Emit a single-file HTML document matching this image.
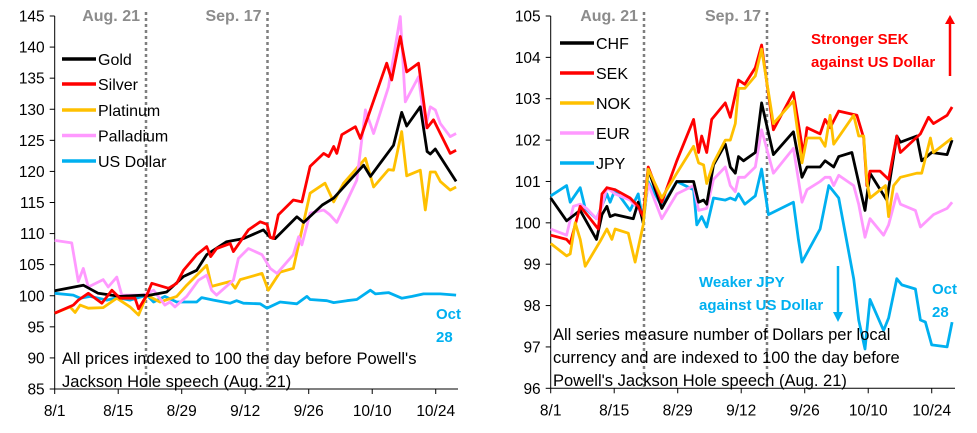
<!DOCTYPE html>
<html><head><meta charset="utf-8">
<style>
html,body{margin:0;padding:0;background:#fff;}
svg{display:block;font-family:"Liberation Sans",sans-serif;}
</style></head>
<body>
<svg id="chart" width="977" height="433" viewBox="0 0 977 433" xmlns="http://www.w3.org/2000/svg"></svg>
<script>
// ---------- Left panel data (day offsets from 8/1) ----------
const xTickLabels = ["8/1","8/15","8/29","9/12","9/26","10/10","10/24"];
const xTickDays = [0,14,28,42,56,70,84];
const leftYTicks = [85,90,95,100,105,110,115,120,125,130,135,140,145];
const rightYTicks = [96,97,98,99,100,101,102,103,104,105];

const goldDays = [0,6.3,9.6,14.4,19.6,20.3,24.7,28.4,31.3,33.5,37.9,41.6,46,47.5,48.6,53.4,54.9,59,61.5,68.1,69.6,74.7,76.5,77.6,80.6,82.1,82.8,83.9,88.5];
const goldVals = [100.8,101.7,100.4,99.9,100.1,100,100.6,103.1,104.1,106.6,108.7,109.2,110.6,109.4,109.2,112.7,111.8,114.6,115.7,121,119.2,124.2,129.5,127.3,130.4,123.2,122.8,123.6,118.4];
const silverDays = [0,4.1,5.2,7.4,10.4,12.6,14.4,17.7,18.5,20.3,21.4,25.1,26.9,28.4,31.3,33.5,34.4,35.7,38.7,39.4,42.7,45.3,46.8,47.5,48.2,49.3,52.6,54.5,56.3,59.3,60.4,61.5,62.2,63.3,66.3,67.4,73.2,74.3,76.2,77.6,80.2,82.1,83.5,87.2,88.5];
const silverVals = [97.2,98.5,99.3,100.4,98.8,100.9,99.6,99.6,97.9,100.1,102,101.2,102,104.1,106.6,107.9,106.3,107.6,108.4,107.1,110.6,111.9,111.5,109.4,109.2,113,115.4,115.1,120.8,122.9,122.4,124,122.9,125.9,127.2,125.3,137.4,134.7,141.7,136,137.4,127,128.3,122.9,123.4];
const platinumDays = [0,3.4,4.5,5.6,7.4,10.7,13.7,16.6,18.5,20.3,23.2,26.9,29.1,33.5,34.6,38.7,39.8,40.9,42.4,45.7,47.1,49.7,52.6,56.3,59.6,61.5,63.7,68.5,70.3,73.6,74.7,76.5,77.6,80.6,81.7,82.8,83.9,85,87.2,88.5];
const platinumVals = [97.2,98.2,97.3,98.5,98,98.1,99.6,98.2,96.9,100.1,99,99.9,101.7,104.9,101.5,102.3,101.2,102.6,102.9,103.6,100.9,103.8,104.4,116.5,118.1,115.1,118.1,122.1,117.5,120.3,120.2,126.4,119.3,120.2,113.8,119.9,119.9,118.4,117,117.5];
const palladiumDays = [0,3.75,5.2,6.3,7.4,10.7,11.8,13.7,14.8,19.6,21.8,24.3,25.4,26.5,29.1,31.7,33.5,34.6,35.7,39.4,40.5,42.7,45.7,47.5,49,52.6,53.8,54.5,56.3,59.3,60.7,62.2,66.6,68.5,70.3,73.6,76.2,77.3,80.2,81.7,82.8,83.9,85,87.2,88.5];
const palladiumVals = [108.9,108.5,102.3,104.4,101.4,102.6,101.4,103,100.1,100.1,100.9,98.5,99,98.2,99.9,102.5,103.3,100.9,100.1,102.5,106,107.6,106.6,104.4,103.6,106.6,109.5,108.2,113.3,113.8,113,111.8,118.6,129.9,126.1,133.6,144.9,131.2,135.2,127,130.4,129.9,127.7,125.6,126.1];
const usdDays = [0,4.1,5.6,7.8,11.5,13.7,16.6,20.3,21.8,24.3,26.9,31.3,32.4,35,38.7,40.1,41.6,45.3,46.8,49.7,53.4,55.6,56.3,60,61.5,64.4,66.6,69.6,70.7,73.6,76.5,78.8,81.3,85,88.5];
const usdVals = [100.4,100.1,99.6,99.9,99.3,99.7,99.3,100.1,99,99.9,99,99,99.7,99.3,98.8,99.2,98.8,98.7,98,99,98.7,99.9,99.4,99.2,98.9,99.2,99.4,100.9,100.3,100.5,99.6,99.9,100.3,100.3,100.1];

// ---------- Right panel data ----------
const chfDays = [0,3.5,6.5,10.1,11.3,12.4,13.1,14.2,18.2,19.3,20.4,21.5,24.5,27.8,31.5,32.6,33.7,34.4,35.9,38.5,39.6,40.7,41.4,42.5,45.1,46.5,49.1,53.5,55.4,56.5,59.4,60.5,62.4,63.5,66.4,69.3,70.4,74.1,76.3,77.1,80.7,81.8,84.0,87.4,88.5];
const chfVals = [100.6,100.05,100.3,99.6,100.2,100.4,100.15,100.2,100.1,100.5,100,101.3,100.35,101,101,100.5,100.55,100.45,101.4,101.9,101.35,101.2,101.6,101.5,101.7,102.9,101.65,102.2,101.1,101.35,101.35,101.5,101.35,101.6,101.7,100.3,101.2,100.55,102.1,101.95,102.1,101.5,101.7,101.65,102];
const sekDays = [0,3.5,4.3,6.5,8.7,10.5,11.3,12.4,14.2,17.5,19.3,20.4,21.5,24.5,27.8,31.5,32.6,33.3,34.4,35.5,38.5,39.6,41.4,42.8,45.1,46.5,49.1,53.5,55.7,56.5,59.4,60.5,61.6,63.5,67.5,69.0,69.7,70.4,72.6,74.5,76.3,77.1,81.5,83.3,84.4,87.4,88.5];
const sekVals = [99.7,99.6,99.5,100.4,100.1,99.85,100.7,100.85,100.8,100.6,100.4,100.15,101.35,100.5,101.5,102.5,101.7,102.1,101.7,102.5,102.9,102.55,103.45,103.35,103.75,104.3,102.25,103.15,101.65,102.3,102.15,102.5,102.3,102.7,102.6,102.05,100.9,101.25,101.25,101.05,102.1,101.7,102.15,102.55,102.4,102.6,102.8];
const nokDays = [0,3.5,4.3,5.4,6.5,7.6,10.9,12.4,13.5,14.2,17.1,18.6,20.4,21.5,24.5,27.8,31.5,32.6,33.7,34.4,35.9,38.5,39.6,40.7,41.4,42.8,45.1,46.5,49.1,53.5,55.4,56.5,59.4,60.5,61.6,62.4,66.8,67.9,69.0,69.7,70.4,73.8,74.5,75.6,77.1,80.7,81.8,83.7,84.4,88.5];
const nokVals = [99.5,99.2,99.25,100,99.6,98.95,99.55,99.85,99.6,99.85,99.75,99.05,99.95,101.3,100.6,101.2,101.85,101.45,101.4,100.95,101.45,102,102,102.4,103.25,103.25,103.55,104.2,102.4,102.95,101.45,102.05,102.05,101.85,102.6,101.9,102.6,102.1,102.1,101,100.6,100.9,100.15,100.9,101.1,101.2,101.2,102.05,101.7,102.05];
const eurDays = [0,3.5,5.0,6.5,7.9,10.1,11.3,12.4,14.2,17.5,19.3,20.4,21.5,24.5,25.6,27.8,31.5,32.6,34.4,35.9,38.5,39.6,40.7,41.4,42.8,45.1,46.5,49.1,53.5,55.4,56.5,59.4,60.5,61.6,62.4,63.5,66.8,67.9,69.3,70.4,73.4,74.5,76.3,77.1,80.4,81.5,84.4,87.4,88.5];
const eurVals = [99.85,99.7,100.4,100.45,100.35,100.1,100.4,100.85,100.7,100.55,100.35,100.1,100.95,100.1,100.3,100.7,100.9,100.3,100.35,101.05,101.35,100.9,100.75,101.1,101.1,101.35,102.25,101.2,101.8,100.5,100.8,101,101.1,101.1,100.9,101.15,100.9,100.45,99.65,100.1,99.7,99.95,100.7,100.45,100.3,99.9,100.2,100.35,100.5];
const jpyDays = [0,3.5,4.3,6.5,7.6,10.1,12.4,13.1,14.2,17.5,19.3,20.4,21.5,24.5,27.8,31.5,32.2,33.3,34.4,35.9,38.5,39.6,40.7,41.4,42.8,45.1,46.5,48.0,53.5,54.6,55.4,59.4,61.3,63.5,66.8,67.9,69.3,70.4,73.4,74.5,76.3,77.4,80.4,81.5,82.6,84.0,87.4,88.5];
const jpyVals = [100.65,100.9,100.5,100.85,100.35,100.1,100.7,100.5,100.8,100.3,100.7,100,101,100.4,101,100.8,99.95,100.15,99.9,100.6,100.55,100.6,100.55,100.7,100.45,100.65,101.3,100.2,100.5,99.6,99.05,99.85,100.9,100.6,98.65,97.65,96.95,98.15,97.4,97.7,98.65,98.5,98.4,97.65,97.6,97.05,97,97.6];

const NS = "http://www.w3.org/2000/svg";
const svg = document.getElementById("chart");
function mk(tag, attrs, parent, text){
  const e = document.createElementNS(NS, tag);
  for (const k in attrs) e.setAttribute(k, attrs[k]);
  if (text !== undefined) e.textContent = text;
  (parent || svg).appendChild(e);
  return e;
}

const PXDAY = 4.536;
const panels = [
  {name:"left", x0:54.7, xEnd:458, yTop:16, yBot:389, vMin:85, vMax:145, ticks:leftYTicks,
   aug:146, sep:267.5,
   series:[["us-dollar","#00b0f0",usdDays,usdVals],["platinum","#ffc000",platinumDays,platinumVals],["palladium","#ff99ff",palladiumDays,palladiumVals],["gold","#000000",goldDays,goldVals],["silver","#ff0000",silverDays,silverVals]],
   legend:[["Gold","#000000"],["Silver","#ff0000"],["Platinum","#ffc000"],["Palladium","#ff99ff"],["US Dollar","#00b0f0"]],
   legX:62, legY:[59,84,110,135.5,161]},
  {name:"right", x0:550.7, xEnd:955, yTop:16, yBot:388.3, vMin:96, vMax:105, ticks:rightYTicks,
   aug:644, sep:767,
   series:[["jpy","#00b0f0",jpyDays,jpyVals],["eur","#ff99ff",eurDays,eurVals],["chf","#000000",chfDays,chfVals],["sek","#ff0000",sekDays,sekVals],["nok","#ffc000",nokDays,nokVals]],
   legend:[["CHF","#000000"],["SEK","#ff0000"],["NOK","#ffc000"],["EUR","#ff99ff"],["JPY","#00b0f0"]],
   legX:560, legY:[43,73,103,133,163]}
];

panels.forEach(p => {
  const g = mk("g", {});
  
  
  const xs = d => p.x0 + d * PXDAY;
  const ys = v => p.yBot - (v - p.vMin) / (p.vMax - p.vMin) * (p.yBot - p.yTop);

  const ya = mk("line", {x1:p.x0, y1:p.yTop, x2:p.x0, y2:p.yBot, stroke:"#000", "stroke-width":1}, g);
  
  
  p.ticks.forEach(t => {
    mk("line", {x1:p.x0-5, y1:ys(t), x2:p.x0, y2:ys(t), stroke:"#000", "stroke-width":1}, g);
    const tl = mk("text", {x:p.x0-10, y:ys(t)+5.5, "text-anchor":"end", "font-size":"15.5", fill:"#000"}, g, String(t));
    
    
  });
  const xa = mk("line", {x1:p.x0, y1:p.yBot, x2:p.xEnd, y2:p.yBot, stroke:"#000", "stroke-width":1}, g);
  
  
  xTickDays.forEach((d, i) => {
    mk("line", {x1:xs(d), y1:p.yBot, x2:xs(d), y2:p.yBot+5, stroke:"#000", "stroke-width":1}, g);
    const xl = mk("text", {x:xs(d), y:p.yBot+27, "text-anchor":"middle", "font-size":"15.5", fill:"#000"}, g, xTickLabels[i]);
    
    
  });
  [[p.aug,"Aug. 21"],[p.sep,"Sep. 17"]].forEach(([x, lab]) => {
    const vl = mk("line", {x1:x, y1:12, x2:x, y2:p.yBot, stroke:"#7f7f7f", "stroke-width":2.5, "stroke-dasharray":"3,3"}, g);
    
    
    const el = mk("text", {x:x-6, y:21, "text-anchor":"end", "font-size":"16", "font-weight":"bold", fill:"#8c8c8c"}, g, lab);
    
    
  });
  p.series.forEach(([nm, col, ds, vs]) => {
    const n = Math.min(ds.length, vs.length);
    let pts = [];
    for (let i = 0; i < n; i++) pts.push(xs(ds[i]).toFixed(1) + "," + ys(vs[i]).toFixed(1));
    const pl = mk("polyline", {points:pts.join(" "), fill:"none", stroke:col, "stroke-width":2.8, "stroke-linejoin":"round"}, g);
    
    
  });
  p.legend.forEach(([lab, col], i) => {
    const lg = mk("g", {}, g);
    
    
    mk("line", {x1:p.legX, y1:p.legY[i], x2:p.legX+34, y2:p.legY[i], stroke:col, "stroke-width":3.5}, lg);
    mk("text", {x:p.legX+36, y:p.legY[i]+6, "font-size":"16", fill:"#000"}, lg, lab);
  });
});

function txt(x, y, s, attrs, name){
  const t = mk("text", Object.assign({x:x, y:y}, attrs), svg, s);
  
  
  return t;
}
const note = {"font-size":"16.5", fill:"#000"};
txt(62, 364, "All prices indexed to 100 the day before Powell's", note, 'left-note');
txt(62, 387, "Jackson Hole speech (Aug. 21)", note, 'left-note');
txt(553, 340, "All series measure number of Dollars per local", note, 'right-note');
txt(553, 363, "currency and are indexed to 100 the day before", note, 'right-note');
txt(553, 386, "Powell's Jackson Hole speech (Aug. 21)", note, 'right-note');
const cy = {"font-size":"15", "font-weight":"bold", fill:"#00b0f0"};
txt(436, 319, "Oct", cy, 'left-date-label');
txt(436, 342, "28", cy, 'left-date-label');
txt(932, 294, "Oct", cy, 'right-date-label');
txt(932, 317, "28", cy, 'right-date-label');
txt(699, 287, "Weaker JPY", cy, 'jpy-annotation');
txt(699, 310, "against US Dollar", cy, 'jpy-annotation');
const rd = {"font-size":"15", "font-weight":"bold", fill:"#ff0000"};
txt(811, 44, "Stronger SEK", rd, 'sek-annotation');
txt(811, 67, "against US Dollar", rd, 'sek-annotation');
const a1 = mk("g", {});


mk("line", {x1:950, y1:76, x2:950, y2:22, stroke:"#ff0000", "stroke-width":2.5}, a1);
mk("polygon", {points:"945,24 955,24 950,15", fill:"#ff0000"}, a1);
const a2 = mk("g", {});


mk("line", {x1:838, y1:266, x2:838, y2:314, stroke:"#00b0f0", "stroke-width":2.5}, a2);
mk("polygon", {points:"833,312 843,312 838,322", fill:"#00b0f0"}, a2);
</script>
</body></html>
